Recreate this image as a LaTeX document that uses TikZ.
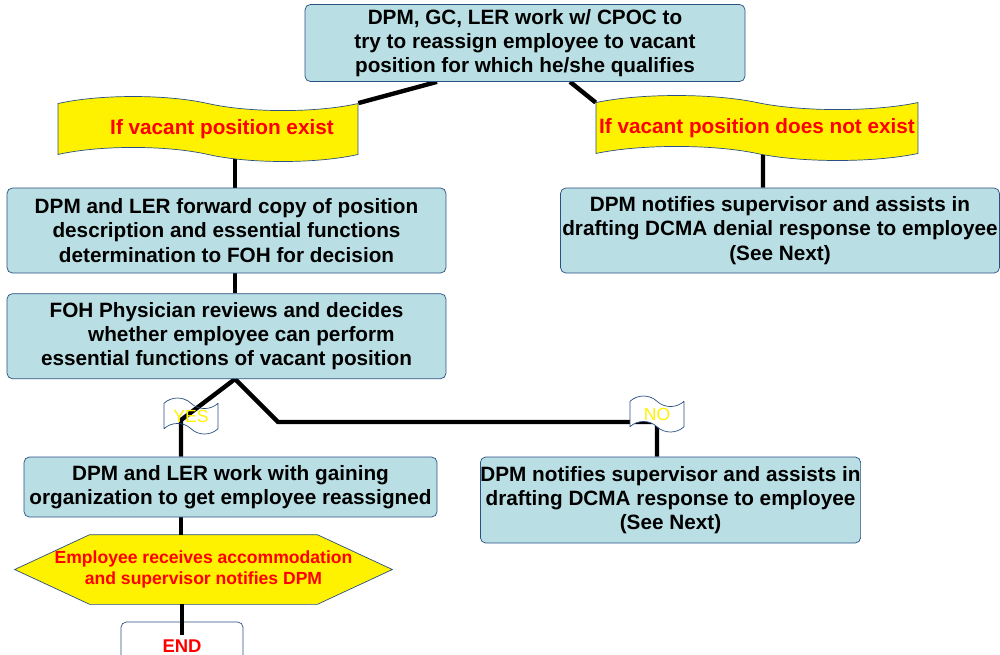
\documentclass[tikz,border=0pt]{standalone}
\usepackage{fontspec}
\setmainfont{Liberation Sans}
\usetikzlibrary{shapes.symbols,backgrounds,positioning}

\definecolor{boxfill}{RGB}{185,223,228}
\definecolor{edgeblue}{RGB}{40,80,130}

\begin{document}
\begin{tikzpicture}[x=0.02cm,y=-0.02cm,line join=round,font=\bfseries\fontsize{11.8}{13.8}\selectfont]
\tikzstyle{box}=[draw=edgeblue,fill=boxfill,rounded corners=3pt,align=center,inner sep=0pt]
\tikzstyle{banner}=[tape,draw=edgeblue,fill=yellow,text=red,tape bend height=8pt,tape bend top=out and in,tape bend bottom=out and in,minimum height=1.3cm,inner sep=0pt]
\tikzstyle{flag}=[tape,draw=edgeblue,text=yellow,font=\fontsize{10}{11}\selectfont,tape bend height=6pt,tape bend top=out and in,tape bend bottom=out and in,minimum width=1.08cm,minimum height=0.72cm,inner sep=0pt]
\tikzstyle{hexa}=[align=center,text=red,font=\bfseries\fontsize{10}{12}\selectfont,minimum width=7.54cm,minimum height=1.38cm,inner sep=0pt]
\tikzstyle{link}=[line width=2.5pt,black]
\useasboundingbox (0,0) rectangle (1000,654);

\node[box,minimum width=8.8cm,minimum height=1.54cm] (try) at (525,43) {DPM, GC, LER work w/ CPOC to\\try to reassign employee to vacant\\position for which he/she qualifies};
\node[banner,minimum width=6cm] (exist) at (208,129) {\hspace*{0.56cm}If vacant position exist};
\node[banner,minimum width=6.44cm] (noexist) at (757,128) {If vacant position does not exist};
\node[box,minimum width=8.78cm,minimum height=1.7cm] (fwd) at (226.5,230.5) {DPM and LER forward copy of position\\description and essential functions\\determination to FOH for decision};
\node[box,minimum width=8.78cm,minimum height=1.7cm] (foh) [below=0.4cm of fwd] {FOH Physician reviews and decides\\\hspace*{17pt}whether employee can perform\\essential functions of vacant position};
\node[box,minimum width=8.78cm,minimum height=1.7cm] (deny) at (780,230.5) {DPM notifies supervisor and assists in\\drafting DCMA denial response to employee\\(See Next)};
\node[box,minimum width=8.26cm,minimum height=1.2cm] (gain) at (230.5,487) {DPM and LER work with gaining\\organization to get employee reassigned};
\node[box,minimum width=7.58cm,minimum height=1.72cm] (resp) at (670.5,500) {DPM notifies supervisor and assists in\\drafting DCMA response to employee\\(See Next)};
\node[hexa] (accom) at (203.5,569.5) {Employee receives accommodation\\and supervisor notifies DPM};
\node[box,fill=white,text=red,font=\bfseries\fontsize{10.5}{12}\selectfont,minimum width=2.44cm,minimum height=0.96cm] (stop) at (182,646) {END};
\node[flag] (yes) at (191,416) {YES};
\node[flag,fill=white] (no) at (657,414) {NO};

\coordinate (j) at ([xshift=0.17cm]foh.south);
\coordinate (yb) at (181,420);
\coordinate (nb) at (278,422);

\begin{scope}[on background layer]
% hexagon outline round the accommodation text
\draw[edgeblue,fill=yellow] (accom.west) -- ([xshift=1.5cm]accom.north west) -- ([xshift=-1.5cm]accom.north east)
  -- (accom.east) -- ([xshift=-1.5cm]accom.south east) -- ([xshift=1.5cm]accom.south west) -- cycle;
\draw[link] ([xshift=-1.76cm]try.south) -- (exist.north east);
\draw[link] ([xshift=0.9cm]try.south) -- (noexist.north west);
\draw[link] (exist.south -| j) -- (fwd.north -| j);
\draw[link] (fwd.south -| j) -- (foh.north -| j);
\draw[link] ([xshift=0.12cm]noexist.south) -- ([xshift=-0.34cm]deny.north);
\draw[link] (j) -- (yb) -- (gain.north -| yb);
\draw[link] (j) -- (nb) -- (nb -| no) -- (resp.north -| no);
\draw[link] (gain.south -| yb) -- (accom.north -| yb);
\end{scope}
\draw[link] (accom.south -| stop) -- (stop.north) -- ++(0,13);
\end{tikzpicture}
\end{document}
